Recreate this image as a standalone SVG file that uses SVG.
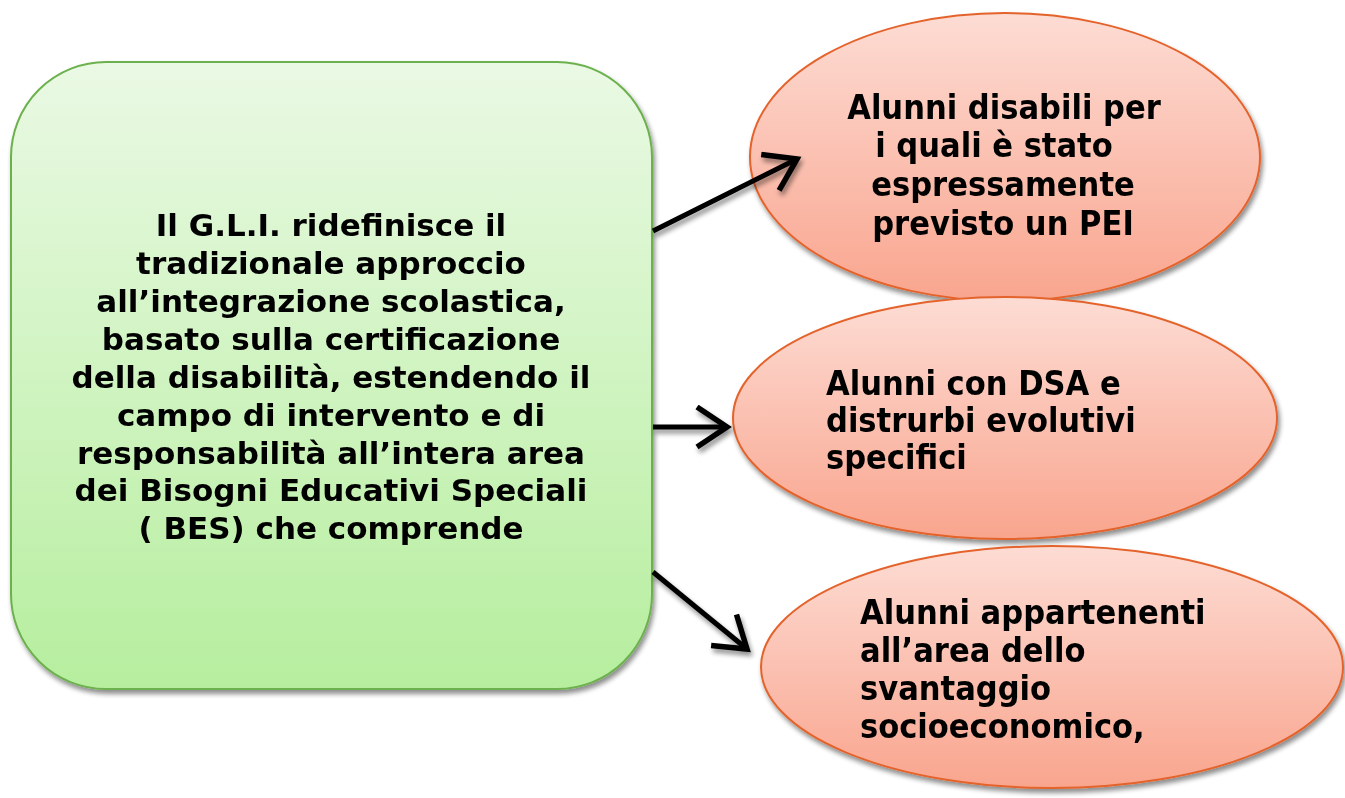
<svg xmlns="http://www.w3.org/2000/svg" width="1345" height="798" viewBox="0 0 1345 798">
<style>
.main{font-family:"DejaVu Sans","Verdana",sans-serif;font-weight:bold;font-size:31px;fill:#000;text-anchor:middle}
.ell{font-family:"DejaVu Sans Condensed","DejaVu Sans",sans-serif;font-weight:bold;font-size:34px;fill:#000}
.oval{fill:url(#gRed);stroke:#e4632c;stroke-width:2}
.conn{stroke:#000;stroke-width:5;fill:none;marker-end:url(#arr)}
</style>
<defs>
<linearGradient id="gGreen" x1="0" y1="0" x2="0" y2="1">
<stop offset="0" stop-color="#eaf9e4"/>
<stop offset="1" stop-color="#b6ee9e"/>
</linearGradient>
<linearGradient id="gRed" x1="0" y1="0" x2="0" y2="1">
<stop offset="0" stop-color="#fddcd4"/>
<stop offset="1" stop-color="#f9a58e"/>
</linearGradient>
<filter id="sh" x="-10%" y="-10%" width="120%" height="125%">
<feGaussianBlur in="SourceAlpha" stdDeviation="2.5"/>
<feOffset dx="2" dy="4" result="b"/>
<feComponentTransfer><feFuncA type="linear" slope="0.45"/></feComponentTransfer>
<feMerge><feMergeNode/><feMergeNode in="SourceGraphic"/></feMerge>
</filter>
<marker id="arr" markerWidth="9" markerHeight="9" refX="6.5" refY="4.5" orient="auto" markerUnits="strokeWidth">
<path d="M0.5,0.5 L6.5,4.5 L0.5,8.5" fill="none" stroke="#000" stroke-width="1.1"/>
</marker>
</defs>
<rect width="1345" height="798" fill="#fff"/>
<g id="node-main" filter="url(#sh)">
<rect x="11" y="62" width="641" height="627" rx="95" ry="95" fill="url(#gGreen)" stroke="#6cb14e" stroke-width="2"/>
<text class="main" x="331" y="236">Il G.L.I. ridefinisce il</text>
<text class="main" x="331" y="274">tradizionale approccio</text>
<text class="main" x="331" y="312">all’integrazione scolastica,</text>
<text class="main" x="331" y="350">basato sulla certificazione</text>
<text class="main" x="331" y="388">della disabilità, estendendo il</text>
<text class="main" x="331" y="426">campo di intervento e di</text>
<text class="main" x="331" y="464">responsabilità all’intera area</text>
<text class="main" x="331" y="501">dei Bisogni Educativi Speciali</text>
<text class="main" x="331" y="539">( BES) che comprende</text>
</g>
<g id="node-pei" filter="url(#sh)">
<ellipse class="oval" cx="1005" cy="157" rx="255" ry="144"/>
<text class="ell" x="1004" y="119" text-anchor="middle">Alunni disabili per</text>
<text class="ell" x="994" y="157" text-anchor="middle">i quali è stato</text>
<text class="ell" x="1003" y="196" text-anchor="middle">espressamente</text>
<text class="ell" x="1003" y="235" text-anchor="middle">previsto un PEI</text>
</g>
<g id="node-dsa" filter="url(#sh)">
<ellipse class="oval" cx="1005" cy="418" rx="272" ry="121"/>
<text class="ell" x="826" y="395">Alunni con DSA e</text>
<text class="ell" x="826" y="432">distrurbi evolutivi</text>
<text class="ell" x="826" y="469">specifici</text>
</g>
<g id="node-svantaggio" filter="url(#sh)">
<ellipse class="oval" cx="1052" cy="667" rx="291" ry="121"/>
<text class="ell" x="860" y="624">Alunni appartenenti</text>
<text class="ell" x="860" y="662">all’area dello</text>
<text class="ell" x="860" y="700">svantaggio</text>
<text class="ell" x="860" y="738">socioeconomico,</text>
</g>
<g id="connectors" filter="url(#sh)">
<line class="conn" x1="653" y1="231" x2="797" y2="159"/>
<line class="conn" x1="653" y1="427" x2="727" y2="427"/>
<line class="conn" x1="653" y1="572" x2="747" y2="649"/>
</g>
</svg>
